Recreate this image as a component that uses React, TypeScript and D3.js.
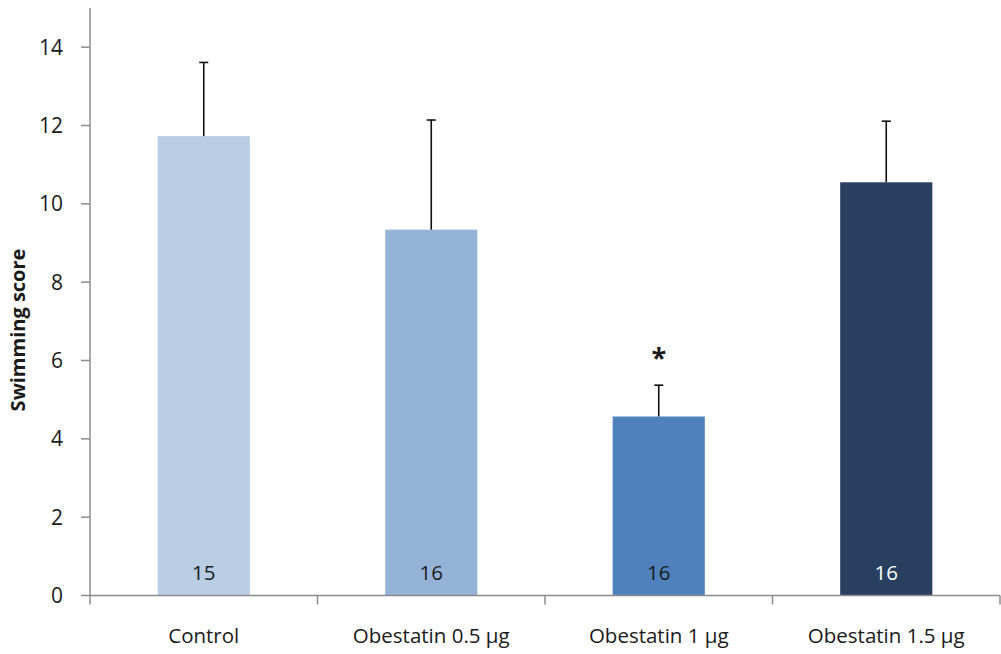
import React from "react";
import * as d3 from "d3";

const categories = ["Control", "Obestatin 0.5 μg", "Obestatin 1 μg", "Obestatin 1.5 μg"];
const means = [11.73, 9.34, 4.57, 10.55];
const errTops = [13.61, 12.14, 5.37, 12.11];
const nLabels = ["15", "16", "16", "16"];
const significance = ["", "", "*", ""];
const colors = ["#B9CDE5", "#95B3D7", "#4F81BD", "#283F5F"];
const nColors = ["#1a1a1a", "#1a1a1a", "#1a1a1a", "#ffffff"];
const yTicks = [0, 2, 4, 6, 8, 10, 12, 14];

const W = 1001;
const H = 654;
const FONT = "'Open Sans', 'Noto Sans', sans-serif";

export default function App() {
  const y = d3.scaleLinear().domain([0, 15]).range([595.5, 8]);
  const x = d3.scaleBand<string>().domain(categories).range([90, 1000]).padding(0);
  const barW = x.bandwidth() * 0.405;
  const axisColor = "#8c8c8c";

  return (
    <svg width={W} height={H} style={{ position: "absolute", left: 0, top: 0, background: "#fff" }}>
      {/* bars */}
      {categories.map((c, i) => {
        const cx = (x(c) as number) + x.bandwidth() / 2;
        return (
          <g key={c}>
            <rect x={cx - barW / 2} y={y(means[i])} width={barW} height={y(0) - y(means[i])} fill={colors[i]} />
            <line x1={cx} x2={cx} y1={y(means[i])} y2={y(errTops[i])} stroke="#111" strokeWidth={1.6} />
            <line x1={cx - 4.5} x2={cx + 4.5} y1={y(errTops[i])} y2={y(errTops[i])} stroke="#111" strokeWidth={1.6} />
            <text x={cx} y={580} textAnchor="middle" fontFamily={FONT} fontSize={20.5} fill={nColors[i]}>
              {nLabels[i]}
            </text>
            {significance[i] && (
              <text x={cx} y={y(errTops[i]) - 18} textAnchor="middle" fontFamily={FONT} fontWeight="bold" fontSize={27} fill="#1a1a1a">
                {significance[i]}
              </text>
            )}
            <text x={cx} y={643} textAnchor="middle" fontFamily={FONT} fontSize={20.5} fill="#1a1a1a">
              {c}
            </text>
          </g>
        );
      })}
      {/* y axis */}
      <line x1={90} x2={90} y1={y(15)} y2={y(0)} stroke={axisColor} strokeWidth={1.5} />
      {yTicks.map((t) => (
        <g key={t}>
          <line x1={81} x2={90} y1={y(t)} y2={y(t)} stroke={axisColor} strokeWidth={1.5} />
          <text x={63} y={y(t) + 7.5} textAnchor="end" fontFamily={FONT} fontSize={21} fill="#1a1a1a">
            {t}
          </text>
        </g>
      ))}
      {/* x axis */}
      <line x1={90} x2={1000} y1={y(0)} y2={y(0)} stroke={axisColor} strokeWidth={1.5} />
      {categories.map((c) => (
        <line key={c} x1={x(c) as number} x2={x(c) as number} y1={y(0)} y2={y(0) + 9} stroke={axisColor} strokeWidth={1.5} />
      ))}
      <line x1={1000} x2={1000} y1={y(0)} y2={y(0) + 9} stroke={axisColor} strokeWidth={1.5} />
      {/* y title */}
      <text
        transform={`translate(25, ${330}) rotate(-90)`}
        textAnchor="middle"
        fontFamily={FONT}
        fontWeight="bold"
        fontSize={20}
        fill="#1a1a1a"
      >
        Swimming score
      </text>
    </svg>
  );
}
